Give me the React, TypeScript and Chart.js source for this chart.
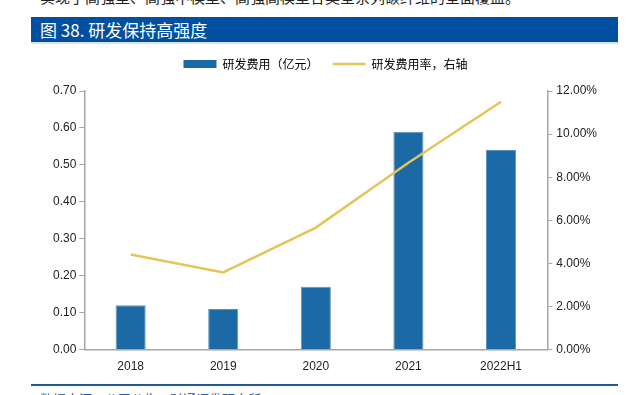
import React, { useEffect, useRef } from "react";
import { Chart, registerables } from "chart.js";

Chart.register(...registerables);

const categories = ["2018", "2019", "2020", "2021", "2022H1"];
const rdExpense = [0.12, 0.11, 0.17, 0.59, 0.54];
const rdRate = [4.41, 3.58, 5.66, 8.67, 11.5];
const leftTicks = [0, 0.1, 0.2, 0.3, 0.4, 0.5, 0.6, 0.7];
const rightTicks = [0, 2, 4, 6, 8, 10, 12];

const BAR_COLOR = "#1B6AA5";
const LINE_COLOR = "#E5C55A";
const AXIS_COLOR = "#A6A6A6";
const TICK_FONT = { family: "'Liberation Sans', Arial, sans-serif", size: 12 };

const legendGap = {
  id: "legendGap",
  beforeInit(chart: any) {
    const legend = chart.legend;
    if (!legend) return;
    const orig = legend.fit;
    legend.fit = function () {
      orig.call(this);
      this.height += 11;
    };
  },
};

export default function App() {
  const ref = useRef<HTMLCanvasElement | null>(null);

  useEffect(() => {
    document.body.style.margin = "0";
    if (!ref.current) return;
    const chart = new Chart(ref.current, {
      data: {
        labels: categories,
        datasets: [
          {
            type: "line",
            label: "研发费用率，右轴",
            data: rdRate,
            yAxisID: "y1",
            borderColor: LINE_COLOR,
            backgroundColor: LINE_COLOR,
            borderWidth: 2.5,
            pointRadius: 0,
            tension: 0,
            order: 0,
          },
          {
            type: "bar",
            label: "研发费用（亿元）",
            data: rdExpense,
            yAxisID: "y",
            backgroundColor: BAR_COLOR,
            borderColor: "#5E93BF",
            borderWidth: { top: 1, left: 1, right: 1, bottom: 0 },
            categoryPercentage: 0.65,
            barPercentage: 0.5,
            order: 1,
          },
        ],
      } as any,
      options: {
        animation: false,
        responsive: false,
        maintainAspectRatio: false,
        layout: { padding: { left: 50, right: 27, top: 0, bottom: 0 } },
        plugins: {
          tooltip: { enabled: false },
          legend: {
            position: "top",
            labels: {
              font: { family: "'Noto Sans CJK SC', sans-serif", size: 12 },
              color: "#333",
              usePointStyle: true,
              pointStyleWidth: 33,
              boxHeight: 8,
              padding: 14,
              generateLabels: () => [
                {
                  text: "研发费用（亿元）",
                  fillStyle: BAR_COLOR,
                  strokeStyle: BAR_COLOR,
                  lineWidth: 0,
                  pointStyle: "rect",
                  datasetIndex: 1,
                  hidden: false,
                } as any,
                {
                  text: "研发费用率，右轴",
                  fillStyle: LINE_COLOR,
                  strokeStyle: LINE_COLOR,
                  lineWidth: 2.5,
                  pointStyle: "line",
                  datasetIndex: 0,
                  hidden: false,
                } as any,
              ],
            },
          },
        },
        scales: {
          x: {
            offset: true,
            grid: { display: false, drawTicks: false },
            border: { color: AXIS_COLOR, width: 1.5 },
            ticks: { font: TICK_FONT, color: "#222", padding: 10 },
          },
          y: {
            position: "left",
            min: 0,
            max: 0.7,
            afterBuildTicks: (axis: any) => {
              axis.ticks = leftTicks.map((v) => ({ value: v }));
            },
            grid: { drawOnChartArea: false, tickLength: 5, color: AXIS_COLOR },
            border: { color: AXIS_COLOR, width: 1.5 },
            ticks: {
              font: TICK_FONT,
              color: "#222",
              padding: 3,
              callback: (v: any) => Number(v).toFixed(2),
            },
          },
          y1: {
            position: "right",
            min: 0,
            max: 12,
            afterBuildTicks: (axis: any) => {
              axis.ticks = rightTicks.map((v) => ({ value: v }));
            },
            grid: { drawOnChartArea: false, tickLength: 5, color: AXIS_COLOR },
            border: { color: AXIS_COLOR, width: 1.5 },
            ticks: {
              font: TICK_FONT,
              color: "#222",
              padding: 4,
              callback: (v: any) => Number(v).toFixed(2) + "%",
            },
          },
        },
      } as any,
      plugins: [legendGap],
    });
    return () => chart.destroy();
  }, []);

  return (
    <div style={{ position: "relative", width: 628, height: 395, overflow: "hidden", background: "#fff", fontFamily: "'Noto Sans CJK SC', sans-serif" }}>
      <div style={{ position: "absolute", left: 40, top: -12, fontSize: 15, color: "#222", whiteSpace: "nowrap", lineHeight: "18px" }}>
        实现了高强型、高强中模型、高强高模型各类全系列碳纤维的全面覆盖。
      </div>
      <div style={{ position: "absolute", left: 31, top: 17, width: 587, height: 25, background: "#0150A0", borderBottom: "2px solid #D6E3F0" }}>
        <span style={{ position: "absolute", left: 9, top: 0, color: "#fff", fontSize: 17, lineHeight: "25px", whiteSpace: "nowrap" }}>
          图 38. 研发保持高强度
        </span>
      </div>
      <canvas ref={ref} width={628} height={340} style={{ position: "absolute", left: 0, top: 44, width: 628, height: 340 }} />
      <div style={{ position: "absolute", left: 31, top: 384, width: 587, height: 2, background: "#1F5A9A" }} />
      <div style={{ position: "absolute", left: 40, top: 391, fontSize: 13, color: "#1F5A9A", whiteSpace: "nowrap", lineHeight: "16px" }}>
        数据来源：公司公告，财通证券研究所
      </div>
    </div>
  );
}
